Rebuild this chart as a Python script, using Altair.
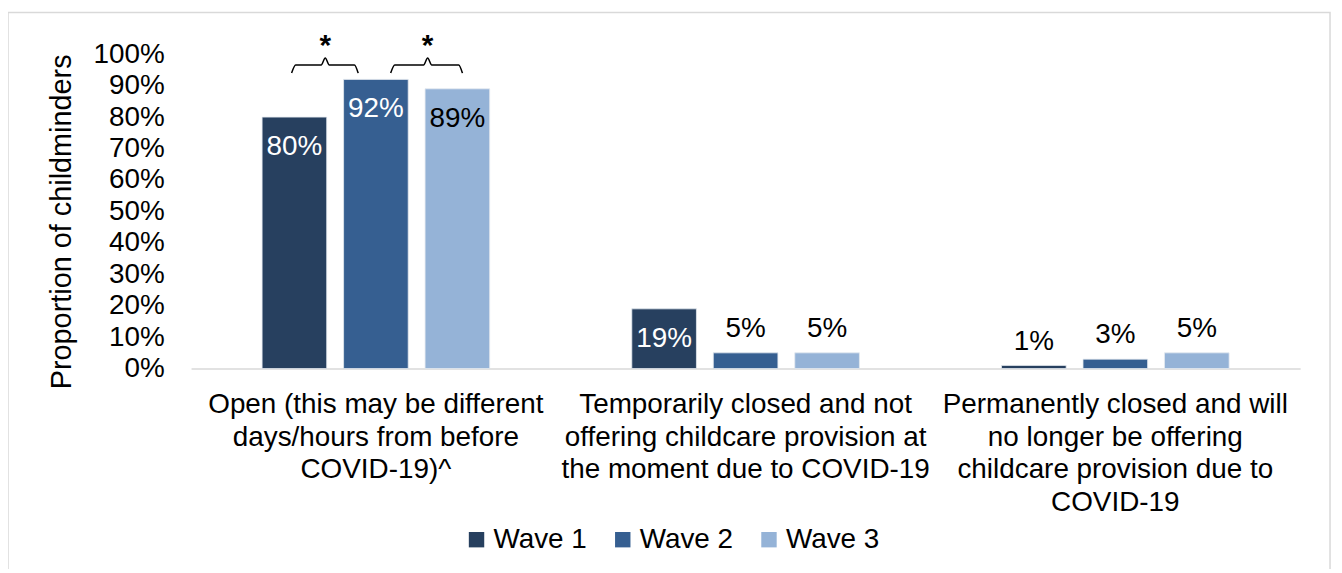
import altair as alt
import pandas as pd

categories = [
    "Open (this may be different|days/hours from before|COVID-19)^",
    "Temporarily closed and not|offering childcare provision at|the moment due to COVID-19",
    "Permanently closed and will|no longer be offering|childcare provision due to|COVID-19",
]
waves = ["Wave 1", "Wave 2", "Wave 3"]
wave1 = [80, 19, 1]
wave2 = [92, 5, 3]
wave3 = [89, 5, 5]
colors = ["#27405F", "#365F91", "#95B3D7"]

rows = []
for i, c in enumerate(categories):
    for w, vals in zip(waves, [wave1, wave2, wave3]):
        rows.append({"category": c, "wave": w, "value": vals[i]})
df = pd.DataFrame(rows)

# significance brackets (annotation, in continuous category-index units)
br_x = [0.272, 0.283, 0.352, 0.363, 0.374, 0.442, 0.452,
        0.540, 0.551, 0.629, 0.640, 0.651, 0.724, 0.734]
br_y = [94.0, 96.6, 96.6, 98.8, 96.6, 96.6, 94.0,
        94.0, 96.6, 96.6, 98.8, 96.6, 96.6, 94.0]
br_id = [1] * 7 + [2] * 7
bracket_df = pd.DataFrame({"x": br_x, "y": br_y, "id": br_id, "order": list(range(14))})
star_df = pd.DataFrame({"x": [0.363, 0.640], "y": [102.5, 102.5], "t": ["*", "*"]})

FONT = "Liberation Sans"
FS = 28

x_enc = alt.X("category:N", sort=categories,
              scale=alt.Scale(paddingInner=0, paddingOuter=0),
              axis=alt.Axis(title=None, labelExpr="split(datum.label, '|')",
                            labelAngle=0, labelFontSize=FS, labelLineHeight=33,
                            labelLimit=400, labelOverlap=False, ticks=False,
                            domainColor="#D9D9D9", domainWidth=1.5, labelPadding=22,
                            labelColor="#000000", labelFont=FONT))
xoff = alt.XOffset("wave:N", sort=waves,
                   scale=alt.Scale(paddingInner=0.207, paddingOuter=0.872))
y_enc = alt.Y("value:Q", scale=alt.Scale(domain=[0, 100], nice=False),
              axis=alt.Axis(title="Proportion of childminders",
                            labelExpr="datum.value + '%'", values=list(range(0, 101, 10)),
                            labelOverlap=False,
                            grid=False, ticks=False, domain=False, labelPadding=27,
                            labelFontSize=FS, labelColor="#000000", labelFont=FONT,
                            titleFontSize=29, titleFontWeight="normal", titleColor="#000000",
                            titleFont=FONT, titleAngle=-90, titleX=-130, titleY=168,
                            titleAlign="center", titleBaseline="middle"))
y_plain = alt.Y("value:Q", axis=None)

base = alt.Chart(df)

bars = base.mark_bar(stroke="#E4E9F0", strokeWidth=0.8).encode(
    x=x_enc, xOffset=xoff, y=y_enc,
    color=alt.Color("wave:N", sort=waves,
                    scale=alt.Scale(domain=waves, range=colors),
                    legend=alt.Legend(title=None, orient="none", direction="horizontal",
                                      legendX=273, legendY=474, symbolType="square",
                                      symbolSize=240, symbolStrokeWidth=0,
                                      labelFontSize=FS, labelFont=FONT, labelColor="#000000",
                                      columnPadding=22, labelOffset=3)),
)

inside = base.transform_filter("datum.value >= 10").transform_calculate(
    lab="datum.value + '%'"
).mark_text(fontSize=FS, font=FONT, baseline="middle", dy=30).encode(
    x=alt.X("category:N", sort=categories), xOffset=xoff, y=y_plain, text="lab:N",
    color=alt.condition("datum.wave == 'Wave 3'", alt.value("#000000"), alt.value("#FFFFFF")),
)

above = base.transform_filter("datum.value < 10").transform_calculate(
    lab="datum.value + '%'"
).mark_text(fontSize=FS, font=FONT, baseline="middle", dy=-24, color="#000000").encode(
    x=alt.X("category:N", sort=categories), xOffset=xoff, y=y_plain, text="lab:N",
)

main = alt.layer(bars, inside, above).resolve_axis(y="independent")

qx = alt.X("x:Q", scale=alt.Scale(domain=[0, 3], nice=False, zero=False), axis=None)
qy = alt.Y("y:Q", axis=None)

brackets = alt.Chart(bracket_df).mark_line(color="#000000", strokeWidth=1.5,
                                           interpolate="monotone").encode(
    x=qx, y=qy, detail="id:N", order="order:Q",
)
stars = alt.Chart(star_df).mark_text(fontSize=30, font=FONT, fontWeight="bold",
                                     baseline="middle", color="#000000").encode(
    x=qx, y=qy, text="t:N",
)
annot = alt.layer(brackets, stars)

border = alt.Chart(pd.DataFrame({"a": [0]})).mark_rect(
    fill=None, stroke="#D9D9D9", strokeWidth=1.5).encode(
    x=alt.value(-184), x2=alt.value(1145), y=alt.value(-42), y2=alt.value(560),
)

chart = alt.layer(border, main, annot).resolve_scale(
    x="independent"
).resolve_axis(y="independent").properties(
    width=1115, height=316,
    padding={"left": 184, "top": 45, "right": 34, "bottom": 200},
    autosize=alt.AutoSizeParams(type="none"),
).configure(background="#FFFFFF").configure_view(stroke=None)

chart.save("out.html", embed_options={"renderer": "svg", "actions": False})
